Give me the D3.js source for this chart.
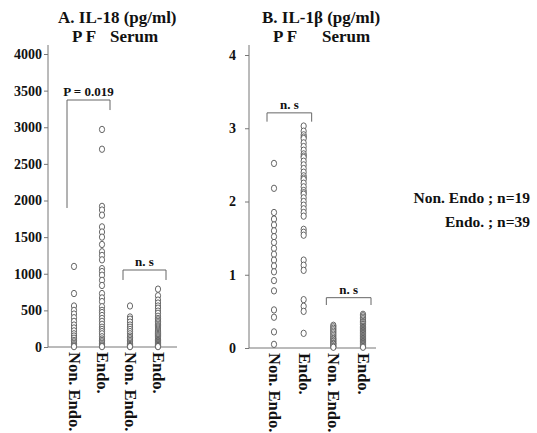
<!DOCTYPE html>
<html lang="en">
<head>
<meta charset="utf-8">
<title>IL-18 and IL-1b</title>
<script src="https://cdnjs.cloudflare.com/ajax/libs/d3/7.8.5/d3.min.js"></script>
<style>
  body { margin: 0; background: #fff; }
  svg text { font-family: 'Liberation Serif', 'DejaVu Serif', serif !important; font-weight: bold; fill: #111; }
  .axis path, .axis line { stroke: #777; }
  .bracket { fill: none; stroke: #666; stroke-width: 1; }
  .dot { fill: #fff; stroke: #555; stroke-width: 0.9; }
</style>
</head>
<body>
<svg id="chart" width="537" height="433" font-family="Liberation Serif"></svg>
<script>
// groups on the x axis (PF then serum)
var groups = ["pfNon", "pfEndo", "srNon", "srEndo"];
var groupLabels = ["Non. Endo.", "Endo.", "Non. Endo.", "Endo."];

// A. IL-18 (pg/ml)
var il18Ticks = [0, 500, 1000, 1500, 2000, 2500, 3000, 3500, 4000];
var il18PfNon = [1100, 730, 560, 500, 450, 400, 350, 300, 260, 220, 180, 150, 120, 90, 70, 50, 30, 15, 5];
var il18PfEndo = [2970, 2700, 1920, 1870, 1800, 1640, 1570, 1500, 1400, 1300, 1250, 1190, 1070, 1030, 980, 910, 840,
  730, 670, 620, 550, 500, 470, 430, 390, 350, 310, 270, 240, 210, 180, 140, 110, 90, 70, 50, 30, 15, 5];
var il18SrNon = [560, 410, 380, 340, 300, 270, 240, 210, 180, 150, 130, 110, 90, 70, 50, 35, 20, 10, 5];
var il18SrEndo = [790, 700, 640, 600, 560, 530, 490, 460, 420, 390, 370, 350, 330, 310, 290, 275, 260, 245, 230, 215,
  200, 185, 170, 155, 140, 125, 110, 100, 90, 80, 70, 60, 50, 40, 30, 25, 20, 10, 5];
// brackets: [from group, to group, top value, left foot, right foot, label]
var il18Brackets = [
  ["pfNon", "pfEndo", 3372, 1898, 3235, "P = 0.019"],
  ["srNon", "srEndo", 1051, 915, 915, "n. s"]
];

// B. IL-1beta (pg/ml)
var il1bTicks = [0, 1, 2, 3, 4];
var il1bPfNon = [2.52, 2.18, 1.85, 1.76, 1.68, 1.60, 1.52, 1.44, 1.36, 1.28, 1.20, 1.12, 1.04, 0.92, 0.78, 0.52, 0.42, 0.22, 0.05];
var il1bPfEndo = [3.03, 2.96, 2.91, 2.88, 2.86, 2.80, 2.75, 2.70, 2.65, 2.62, 2.60, 2.55, 2.50, 2.45, 2.40, 2.35, 2.32, 2.30, 2.25,
  2.20, 2.15, 2.12, 2.10, 2.05, 2.00, 1.95, 1.90, 1.85, 1.80, 1.62, 1.58, 1.54, 1.20, 1.13, 1.06, 0.66, 0.57, 0.50, 0.20];
var il1bSrNon = [0.31, 0.29, 0.27, 0.25, 0.23, 0.21, 0.19, 0.17, 0.15, 0.13, 0.12, 0.10, 0.09, 0.07, 0.06, 0.05, 0.03, 0.02, 0.01];
var il1bSrEndo = [0.46, 0.44, 0.42, 0.40, 0.38, 0.36, 0.35, 0.33, 0.32, 0.30, 0.29, 0.28, 0.27, 0.26, 0.25, 0.24, 0.23, 0.22,
  0.21, 0.20, 0.19, 0.18, 0.17, 0.16, 0.15, 0.14, 0.13, 0.12, 0.11, 0.10, 0.09, 0.08, 0.07, 0.06, 0.05, 0.04, 0.03, 0.02, 0.01];
var il1bBrackets = [
  ["pfNon", "pfEndo", 3.21, 3.09, 3.09, "n. s"],
  ["srNon", "srEndo", 0.687, 0.587, 0.587, "n. s"]
];

var legendLines = ["Non. Endo ; n=19", "Endo. ; n=39"];

var svg = d3.select("#chart");

function panel(opt) {
  var g = svg.append("g");
  var x = d3.scalePoint().domain(groups).range(opt.xRange);
  var y = d3.scaleLinear().domain([0, opt.ticks[opt.ticks.length - 1]]).range(opt.yRange);

  // axes
  g.append("g").attr("class", "axis")
    .attr("transform", "translate(" + opt.axisX + ",0)")
    .call(d3.axisLeft(y).tickValues(opt.ticks).tickFormat(d3.format("d"))
      .tickSize(4).tickPadding(opt.tickPad).tickSizeOuter(0))
    .call(function(a) {
      a.attr("font-family", null).attr("font-size", null);
      a.select(".domain").attr("d", "M0," + opt.yTop + "V" + opt.yRange[0]);
      a.selectAll("text").style("font-size", "14px");
    });
  g.append("line").attr("x1", opt.axisX).attr("x2", opt.axisEnd)
    .attr("y1", y(0)).attr("y2", y(0)).attr("stroke", "#777");

  // titles
  g.append("text").attr("x", opt.titleX).attr("y", 23).style("font-size", "17px").text(opt.title);
  g.append("text").attr("x", opt.pfX).attr("y", 42).style("font-size", "17px").text("P F");
  g.append("text").attr("x", opt.serumX).attr("y", 42).style("font-size", "17px").text("Serum");

  // points
  opt.series.forEach(function(vals, i) {
    g.selectAll(null).data(vals).enter().append("ellipse")
      .attr("class", "dot")
      .attr("cx", x(groups[i]))
      .attr("cy", function(d) { return y(d); })
      .attr("rx", 2.6).attr("ry", 3.2);
  });

  // brackets
  opt.brackets.forEach(function(b) {
    var x0 = x(b[0]) - 7, x1 = x(b[1]) + 8;
    g.append("path").attr("class", "bracket")
      .attr("d", "M" + x0 + "," + y(b[3]) + "V" + y(b[2]) + "H" + x1 + "V" + y(b[4]));
    g.append("text").attr("x", (x0 + x1) / 2).attr("y", y(b[2]) - 4)
      .attr("text-anchor", "middle").style("font-size", "13px").text(b[5]);
  });

  // rotated group labels
  groupLabels.forEach(function(lab, i) {
    g.append("text")
      .attr("transform", "translate(" + (x(groups[i]) - 5) + "," + (y(0) + 5) + ") rotate(90)")
      .style("font-size", "16.5px").text(lab);
  });
}

panel({
  title: "A. IL-18 (pg/ml)", titleX: 58, pfX: 72, serumX: 110,
  ticks: il18Ticks, xRange: [74, 158], yRange: [347, 54], yTop: 45,
  axisX: 48, axisEnd: 177, tickPad: 2,
  series: [il18PfNon, il18PfEndo, il18SrNon, il18SrEndo],
  brackets: il18Brackets
});

panel({
  title: "B. IL-1\u03b2 (pg/ml)", titleX: 262, pfX: 273, serumX: 322,
  ticks: il1bTicks, xRange: [274, 363], yRange: [348, 55], yTop: 45,
  axisX: 249, axisEnd: 376, tickPad: 9,
  series: [il1bPfNon, il1bPfEndo, il1bSrNon, il1bSrEndo],
  brackets: il1bBrackets
});

// legend
svg.selectAll(".legend").data(legendLines).enter().append("text")
  .attr("class", "legend")
  .attr("x", 530).attr("y", function(d, i) { return 203 + i * 24; })
  .attr("text-anchor", "end").style("font-size", "15.5px")
  .text(function(d) { return d; });
</script>
</body>
</html>
